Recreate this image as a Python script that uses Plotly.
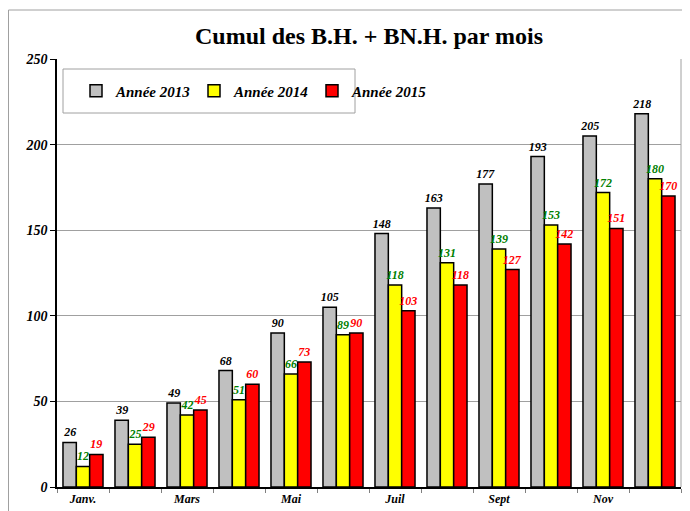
import plotly.graph_objects as go

months = ["Janv.", "Févr.", "Mars", "Avr.", "Mai", "Juin",
          "Juil", "Août", "Sept", "Oct", "Nov", "Déc."]
tick_labels = ["Janv.", "", "Mars", "", "Mai", "",
               "Juil", "", "Sept", "", "Nov", ""]
series_names = ["Année 2013", "Année 2014", "Année 2015"]
v2013 = [26, 39, 49, 68, 90, 105, 148, 163, 177, 193, 205, 218]
v2014 = [12, 25, 42, 51, 66, 89, 118, 131, 139, 153, 172, 180]
v2015 = [19, 29, 45, 60, 73, 90, 103, 118, 127, 142, 151, 170]
y_ticks = [0, 50, 100, 150, 200, 250]

bar_colors = ["#C0C0C0", "#FFFF00", "#FF0000"]
label_colors = ["#000000", "#008000", "#FF0000"]
FONT = "Liberation Serif"

fig = go.Figure()
for name, vals, bc, lc in zip(series_names, [v2013, v2014, v2015], bar_colors, label_colors):
    fig.add_trace(go.Bar(
        x=months, y=vals, name=name,
        marker=dict(color=bc, line=dict(color="black", width=1.5)),
        text=[str(v) for v in vals], textposition="outside",
        textfont=dict(family=FONT, size=12, color=lc, weight="bold", style="italic"),
        constraintext="none", cliponaxis=False,
    ))

# The page body has an 8px margin: the figure starts at screen (8, 8)
OFF = 8
W, H = 690 - OFF, 511 - OFF
# plot area in screen pixels
SX0, SX1, SY0, SY1 = 57, 681, 59, 487
L, R = SX0 - OFF, W - (SX1 - OFF)
T, B = SY0 - OFF, H - (SY1 - OFF)
PW, PH = SX1 - SX0, SY1 - SY0

def px_x(sx):
    return (sx - SX0) / PW

def px_y(sy):
    return (SY1 - sy) / PH

fig.update_layout(
    width=W, height=H,
    margin=dict(l=L, r=R, t=T, b=B, autoexpand=False),
    paper_bgcolor="white", plot_bgcolor="white",
    barmode="group", bargap=0.23, bargroupgap=0,
    title=dict(text="<b>Cumul des B.H. + BN.H. par mois</b>",
               font=dict(family=FONT, size=24, color="black"),
               x=0.5, xref="paper", xanchor="center",
               y=1 - (36 - OFF) / H, yref="container", yanchor="middle"),
    legend=dict(orientation="h", x=px_x(76), y=px_y(91),
                xanchor="left", yanchor="middle",
                font=dict(family=FONT, size=15, color="black", weight="bold", style="italic"),
                bgcolor="rgba(0,0,0,0)", borderwidth=0,
                entrywidth=73, entrywidthmode="pixels"),
    xaxis=dict(type="category", tickson="boundaries",
               tickmode="array", tickvals=months, ticktext=tick_labels,
               ticks="outside", ticklen=4, tickcolor="#808080",
               showline=True, linecolor="black", linewidth=1.5,
               showgrid=False,
               tickfont=dict(family=FONT, size=12, color="black", weight="bold", style="italic")),
    yaxis=dict(range=[0, 250], tickvals=y_ticks,
               ticks="outside", ticklen=5, tickcolor="black",
               showline=True, linecolor="black", linewidth=1.5,
               showgrid=True, gridcolor="#A0A0A0", gridwidth=1,
               zeroline=False,
               tickfont=dict(family=FONT, size=14, color="black", weight="bold", style="italic")),
    shapes=[
        # outer chart border
        dict(type="rect", xref="paper", yref="paper",
             x0=px_x(OFF + 0.5), x1=px_x(700), y0=px_y(520), y1=px_y(10),
             line=dict(color="#A0A0A0", width=1), layer="below"),
        # right border of plot area
        dict(type="line", xref="paper", yref="paper", x0=1, x1=1, y0=0, y1=1,
             line=dict(color="#A0A0A0", width=1)),
        # legend box
        dict(type="rect", xref="paper", yref="paper",
             x0=px_x(63), x1=px_x(355), y0=px_y(113), y1=px_y(69),
             line=dict(color="#A0A0A0", width=1), fillcolor="white", layer="below"),
    ],
)

fig.write_html("out.html")
